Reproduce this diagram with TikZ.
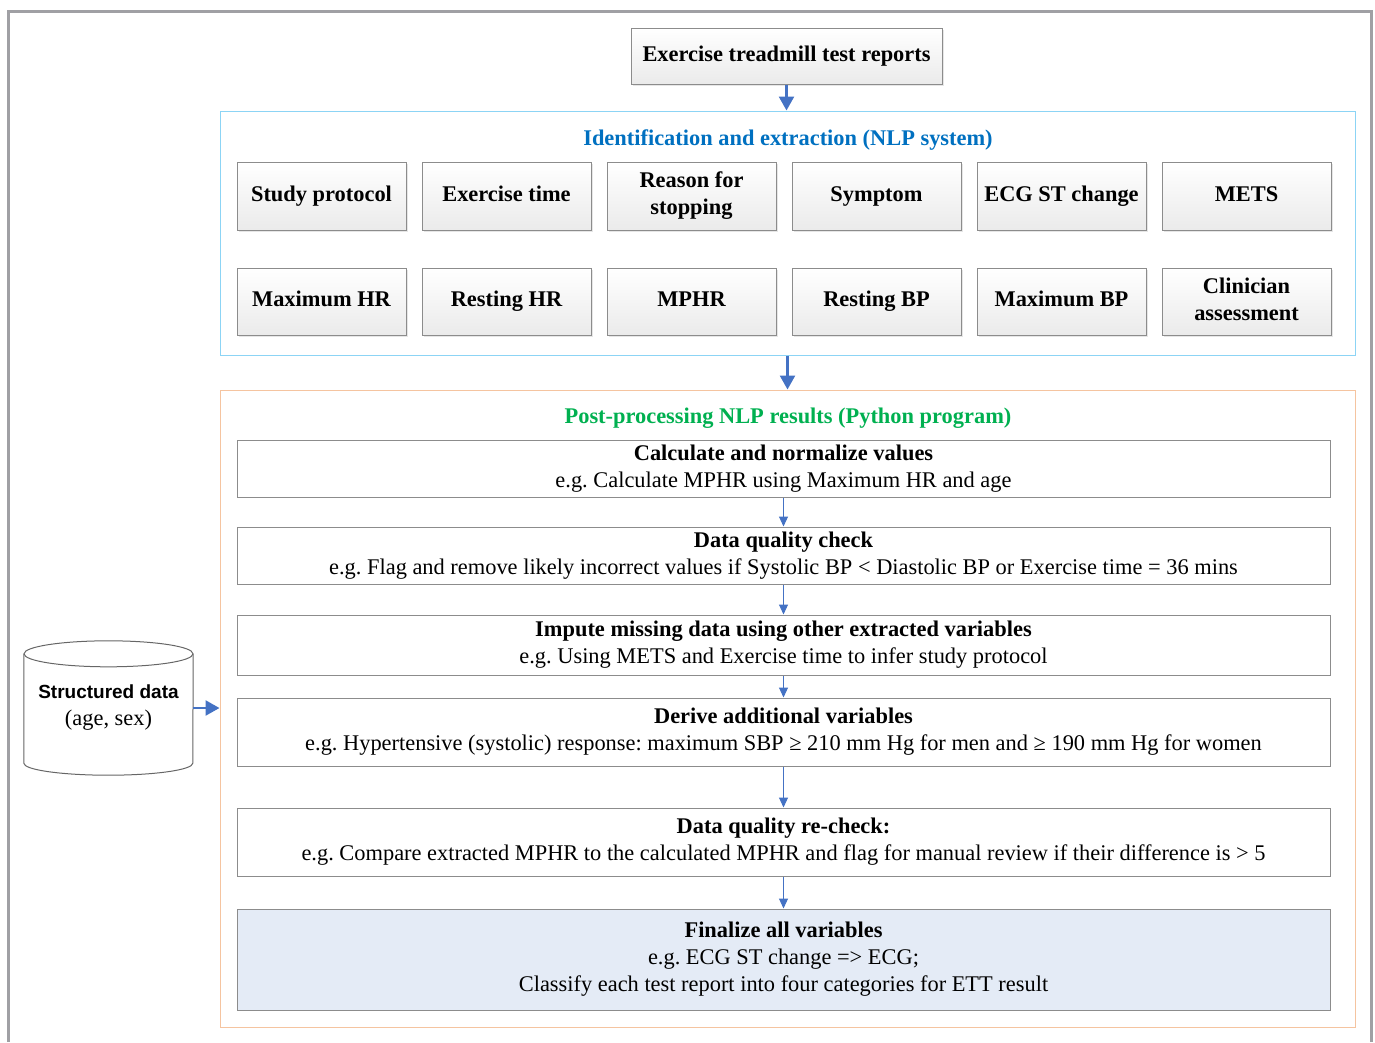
\documentclass[tikz,border=0pt]{standalone}
\usepackage{fontspec}
\setmainfont{Liberation Serif}
\newfontfamily\arialfont{Liberation Sans}
\usetikzlibrary{arrows.meta,positioning,shadows}
\definecolor{framegray}{RGB}{160,160,164}
\definecolor{nlpblue}{RGB}{140,212,245}
\definecolor{postorange}{RGB}{245,196,160}
\definecolor{titleblue}{RGB}{0,112,192}
\definecolor{titlegreen}{RGB}{0,176,80}
\definecolor{arrowblue}{RGB}{68,114,196}
\definecolor{finalblue}{RGB}{228,235,246}
\definecolor{boxgray}{RGB}{140,140,140}
\frenchspacing

\begin{document}
\begin{tikzpicture}[
  x=1pt, y=-1pt,
  font=\fontsize{22.4}{27}\selectfont,
  varbox/.style={draw=boxgray, line width=1pt, top color=white, bottom color=black!8,
                 minimum width=169pt, minimum height=68pt, align=center, inner sep=2pt,
                 font=\fontsize{22.4}{27}\selectfont\bfseries,
                 drop shadow={shadow xshift=2pt, shadow yshift=-2pt, opacity=.2, fill=black!50}},
  stepbox/.style={draw=boxgray, line width=1pt, fill=white, minimum width=1093pt,
                  align=center, inner sep=2pt},
  groupframe/.style={draw=#1, line width=1pt, minimum width=1135pt},
  grouptitle/.style={font=\fontsize{22.4}{27}\selectfont\bfseries},
  cylline/.style={draw=black!60, line width=1pt},
  bigarrow/.style={-{Triangle[length=14pt,width=15pt]}, line width=2.5pt, arrowblue},
  smallarrow/.style={-{Triangle[length=10pt,width=9pt]}, line width=1pt, arrowblue}
]
\useasboundingbox (0,0) rectangle (1375,1042);
\draw[framegray, line width=3pt] (8,1042) -- (8,11) -- (1371,11) -- (1371,1042);

% source reports
\node[varbox, minimum width=311pt, minimum height=56pt] (reports) at (786.5,56)
  {\strut Exercise treadmill test reports};

% NLP extraction group
\node[groupframe=nlpblue, minimum height=244pt] (nlp) at (787.5,233) {};
\node[grouptitle, text=titleblue] (nlptitle) at (788,140)
  {Identification and extraction (NLP system)};
\foreach \name/\txt [count=\i from 0] in {protocol/Study protocol, extime/Exercise time,
    reason/{Reason for\\stopping}, symptom/Symptom, ecgst/ECG ST change, mets/METS}
  \node[varbox] (\name) at (321.5+185*\i,196) {\strut\txt\strut};
\foreach \name/\txt [count=\i from 0] in {maxhr/Maximum HR, resthr/Resting HR, mphr/MPHR,
    restbp/Resting BP, maxbp/Maximum BP, clinician/{Clinician\\assessment}}
  \node[varbox, minimum height=67pt] (\name) at (321.5+185*\i,301.5) {\strut\txt\strut};

% post-processing group
\node[groupframe=postorange, minimum height=637pt] (post) at (787.5,708.5) {};
\node[grouptitle, text=titlegreen] (posttitle) at (788,418)
  {Post-processing NLP results (Python program)};
\node[stepbox, minimum height=57pt] (calc) at (783.5,468.5)
  {\textbf{Calculate and normalize values}\\e.g. Calculate MPHR using Maximum HR and age};
\node[stepbox, minimum height=57pt] (check) at (783.5,555.5)
  {\textbf{Data quality check}\\e.g. Flag and remove likely incorrect values if Systolic BP < Diastolic BP or Exercise time = 36 mins};
\node[stepbox, minimum height=60pt] (impute) at (783.5,645)
  {\textbf{Impute missing data using other extracted variables}\\e.g. Using METS and Exercise time to infer study protocol};
\node[stepbox, minimum height=68pt] (derive) at (783.5,732)
  {\textbf{Derive additional variables}\\e.g. Hypertensive (systolic) response: maximum SBP ≥ 210 mm Hg for men and ≥ 190 mm Hg for women};
\node[stepbox, minimum height=68pt] (recheck) at (783.5,842)
  {\textbf{Data quality re-check:}\\e.g. Compare extracted MPHR to the calculated MPHR and flag for manual review if their difference is > 5};
\node[stepbox, fill=finalblue, minimum height=101pt] (final) at (783.5,959.5)
  {\textbf{Finalize all variables}\\e.g. ECG ST change => ECG;\\Classify each test report into four categories for ETT result};

% structured data
\node[align=center, minimum width=169pt, minimum height=134pt] (data) at (108.5,708)
  {{\arialfont\bfseries\fontsize{19}{27}\selectfont Structured data}\\(age, sex)};
\draw[cylline] ([yshift=-13pt]data.north) ellipse [x radius=84.5pt, y radius=13pt];
\draw[cylline] ([yshift=-13pt]data.north west) -- ([yshift=12pt]data.south west)
  arc[start angle=180, end angle=360, x radius=84.5pt, y radius=12pt]
  -- ([yshift=-13pt]data.north east);

% arrows
\draw[bigarrow] (reports.south) -- (reports.south |- nlp.north);
\draw[bigarrow] (nlp.south) -- (post.north);
\draw[bigarrow] (data.east) -- (data.east -| post.west);
\foreach \a/\b in {calc/check, check/impute, impute/derive, derive/recheck, recheck/final}
  \draw[smallarrow] (\a) -- (\b);
\end{tikzpicture}
\end{document}
